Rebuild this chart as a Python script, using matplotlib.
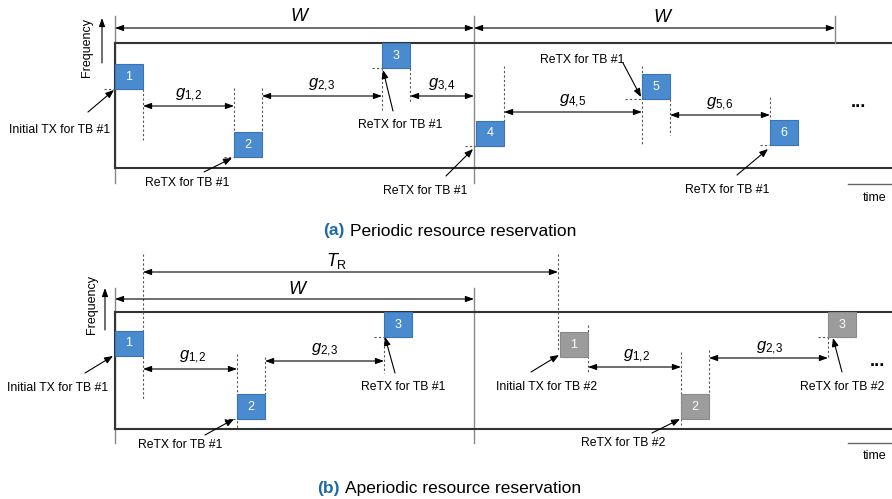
import matplotlib.pyplot as plt
from matplotlib.patches import Rectangle

plt.rcParams['font.family'] = ['Liberation Sans', 'DejaVu Sans']
plt.rcParams['mathtext.fontset'] = 'custom'
plt.rcParams['mathtext.rm'] = 'Liberation Sans'
plt.rcParams['mathtext.it'] = 'Liberation Sans:italic'

# (a) periodic: start time / frequency offset of each transmission
per_t = [115, 234, 382, 476, 642, 770]
per_f = [64, 132, 43, 121, 74, 120]
per_ids = ['1', '2', '3', '4', '5', '6']
per_gaps = [r'$g_{1,\!2}$', r'$g_{2,\!3}$', r'$g_{3,\!4}$', r'$g_{4,\!5}$', r'$g_{5,\!6}$']

# (b) aperiodic: TB #1 (blue) and TB #2 (grey)
ap1_t = [115, 237, 384]
ap1_f = [331, 394, 312]
ap2_t = [560, 681, 828]
ap2_f = [332, 394, 312]
ap_ids = ['1', '2', '3']
ap_gaps = [r'$g_{1,\!2}$', r'$g_{2,\!3}$']

BW, BH = 28, 25
BLUE, BLUE_EDGE = '#4a8bcf', '#3a74b2'
GREY, GREY_EDGE = '#9c9c9c', '#8a8a8a'
NOTE_FS = 8.8

fig = plt.figure(figsize=(8.92, 4.99), dpi=100)
ax = fig.add_axes([0, 0, 1, 1])
ax.set_xlim(0, 892)
ax.set_ylim(499, 0)
ax.axis('off')


def block(x, y, label, fc, ec):
    ax.add_patch(Rectangle((x, y), BW, BH, fc=fc, ec=ec, lw=0.8, zorder=3))
    ax.text(x + BW / 2, y + BH / 2, label, color='white', fontsize=9,
            ha='center', va='center', zorder=4)


def dash(x0, y0, x1, y1):
    ax.plot([x0, x1], [y0, y1], color='#555555', lw=0.8,
            linestyle=(0, (2, 2)), zorder=2)


def span(x0, x1, y, label=None, lx=None, ly=None, fs=12):
    ax.annotate('', xy=(x1, y), xytext=(x0, y),
                arrowprops=dict(arrowstyle='<|-|>,head_length=0.5,head_width=0.18',
                                color='black', lw=0.8, shrinkA=0, shrinkB=0))
    if label is not None:
        ax.text(lx, ly, label, fontsize=fs, ha='center', va='center')


def note(text, tx, ty, x0, y0, x1, y1):
    ax.text(tx, ty, text, fontsize=NOTE_FS, ha='center', va='center')
    ax.annotate('', xy=(x1, y1), xytext=(x0, y0),
                arrowprops=dict(arrowstyle='-|>,head_length=0.5,head_width=0.2',
                                color='black', lw=0.8, shrinkA=0, shrinkB=0))


def band(top, bottom, vtop, vbot):
    ax.plot([115, 115], [vtop, vbot], color='#888888', lw=1)
    ax.plot([474, 474], [vtop, vbot], color='#888888', lw=1)
    ax.plot([115, 892], [top, top], color='#333333', lw=1.5)
    ax.plot([115, 892], [bottom, bottom], color='#333333', lw=1.5)
    ax.plot([115, 115], [top, bottom], color='#333333', lw=1.5)


def freq_axis(x, y0, y1, tx, ty):
    ax.annotate('', xy=(x, y1), xytext=(x, y0),
                arrowprops=dict(arrowstyle='-|>,head_length=0.5,head_width=0.18',
                                color='black', lw=0.8, shrinkA=0, shrinkB=0))
    ax.text(tx, ty, 'Frequency', fontsize=9, rotation=90, ha='center', va='center')


def time_axis(y, ty):
    ax.plot([848, 892], [y, y], color='#666666', lw=1)
    ax.text(875, ty, 'time', fontsize=9, ha='center', va='center')


# ---------------- (a) Periodic resource reservation ----------------
band(43, 168, 16, 183)
ax.plot([835, 835], [16, 43], color='#888888', lw=1)
freq_axis(102, 63, 18, 87, 47)
span(115, 474, 28, '$W$', 300, 16, fs=13)
span(474, 835, 28, '$W$', 663, 17, fs=13)

for t, f, k in zip(per_t, per_f, per_ids):
    block(t, f, k, BLUE, BLUE_EDGE)

# dashed guides around each block
dash(104, per_f[0] + BH, per_t[0] + BW, per_f[0] + BH)
dash(per_t[0] + BW, per_f[0] + BH, per_t[0] + BW, 140)
dash(224, per_f[1] + BH, per_t[1] + BW, per_f[1] + BH)
dash(per_t[1], 88, per_t[1], per_f[1])
dash(per_t[1] + BW, 88, per_t[1] + BW, per_f[1])
dash(372, per_f[2] + BH, per_t[2] + BW, per_f[2] + BH)
dash(per_t[2], per_f[2] + BH, per_t[2], 110)
dash(per_t[2] + BW, per_f[2] + BH, per_t[2] + BW, 103)
dash(465, per_f[3] + BH, per_t[3] + BW, per_f[3] + BH)
dash(per_t[3] + BW, 66, per_t[3] + BW, per_f[3])
dash(625, per_f[4] + BH, per_t[4] + BW, per_f[4] + BH)
dash(per_t[4], 66, per_t[4], 145)
dash(per_t[4] + BW, per_f[4] + BH, per_t[4] + BW, 135)
dash(760, per_f[5] + BH, per_t[5] + BW, per_f[5] + BH)
dash(per_t[5], 97, per_t[5], per_f[5])

# gaps between consecutive transmissions (g_{3,4} ends at the period boundary)
gap_y = [106, 96, 96, 112, 115]
gap_x0 = [per_t[0] + BW, per_t[1] + BW, per_t[2] + BW, per_t[3] + BW, per_t[4] + BW]
gap_x1 = [per_t[1], per_t[2], 474, per_t[4], per_t[5]]
for x0, x1, y, lab in zip(gap_x0, gap_x1, gap_y, per_gaps):
    span(x0, x1, y, lab, (x0 + x1) / 2, y - 11)

ax.text(858, 102, '...', fontsize=13, ha='center', va='center', fontweight='bold')
time_axis(184, 198)

note('Initial TX for TB #1', 60, 130, 88, 112, 114, 90)
note('ReTX for TB #1', 187, 183, 204, 172, 232, 158)
note('ReTX for TB #1', 400, 125, 393, 111, 383, 70)
note('ReTX for TB #1', 425, 191, 446, 176, 473, 149)
note('ReTX for TB #1', 582, 60, 623, 63, 641, 97)
note('ReTX for TB #1', 727, 190, 737, 175, 768, 149)

ax.text(345, 231, '(a)', fontsize=12.5, color='#1f6aa5', fontweight='bold',
        ha='right', va='center')
ax.text(350, 231, 'Periodic resource reservation', fontsize=12.5,
        ha='left', va='center')

# ---------------- (b) Aperiodic resource reservation ----------------
band(312, 429, 288, 443)
freq_axis(105, 330, 288, 92, 304)
span(143, 558, 272, r'$T_{\mathrm{R}}$', 337, 261, fs=13)
span(115, 474, 299, '$W$', 298, 290, fs=13)

for t, f, k in zip(ap1_t, ap1_f, ap_ids):
    block(t, f, k, BLUE, BLUE_EDGE)
for t, f, k in zip(ap2_t, ap2_f, ap_ids):
    block(t, f, k, GREY, GREY_EDGE)

# TB #1 guides
dash(115, ap1_f[0] + BH, ap1_t[0] + BW, ap1_f[0] + BH)
dash(ap1_t[0] + BW, 254, ap1_t[0] + BW, 400)
dash(224, ap1_f[1] + BH, ap1_t[1] + BW, ap1_f[1] + BH)
dash(ap1_t[1], 354, ap1_t[1], 429)
dash(ap1_t[1] + BW, 357, ap1_t[1] + BW, ap1_f[1])
dash(374, ap1_f[2] + BH, ap1_t[2] + BW, ap1_f[2] + BH)
dash(ap1_t[2], ap1_f[2] + BH, ap1_t[2], 373)
# TB #2 guides
dash(ap2_t[0] - 2, 254, ap2_t[0] - 2, 350)
dash(ap2_t[0] + BW, 325, ap2_t[0] + BW, 373)
dash(ap2_t[1], 352, ap2_t[1], 425)
dash(ap2_t[1] + BW, 350, ap2_t[1] + BW, ap2_f[1])
dash(818, ap2_f[2] + BH, ap2_t[2] + BW, ap2_f[2] + BH)
dash(ap2_t[2], ap2_f[2] + BH, ap2_t[2], 357)

span(ap1_t[0] + BW, ap1_t[1], 369, ap_gaps[0], 193, 357)
span(ap1_t[1] + BW, ap1_t[2], 361, ap_gaps[1], 325, 350)
span(ap2_t[0] + BW, ap2_t[1], 367, ap_gaps[0], 637, 356)
span(ap2_t[1] + BW, ap2_t[2], 358, ap_gaps[1], 770, 348)

ax.text(877, 362, '...', fontsize=13, ha='center', va='center', fontweight='bold')
time_axis(443, 456)

note('Initial TX for TB #1', 58, 388, 85, 373, 113, 356)
note('ReTX for TB #1', 180, 445, 205, 435, 234, 419)
note('ReTX for TB #1', 403, 387, 395, 373, 385, 337)
note('Initial TX for TB #2', 547, 387, 531, 372, 559, 355)
note('ReTX for TB #2', 623, 443, 652, 433, 680, 419)
note('ReTX for TB #2', 842, 387, 842, 372, 833, 338)

ax.text(340, 488, '(b)', fontsize=12.5, color='#1f6aa5', fontweight='bold',
        ha='right', va='center')
ax.text(345, 488, 'Aperiodic resource reservation', fontsize=12.5,
        ha='left', va='center')

fig.savefig('out.png', dpi=100)
